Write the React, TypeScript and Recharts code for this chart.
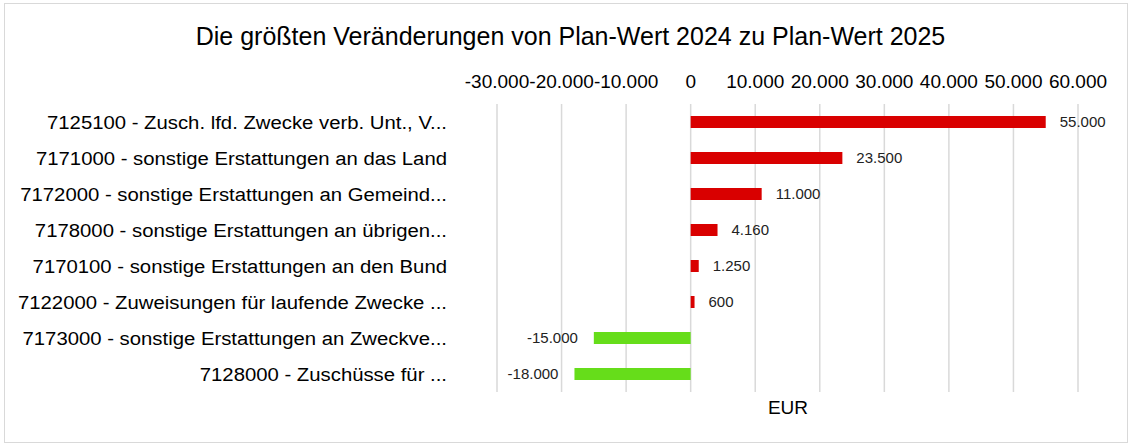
import { Bar, BarChart, CartesianGrid, Cell, LabelList, XAxis, YAxis } from 'recharts';

const categories = [
  '7125100 - Zusch. lfd. Zwecke verb. Unt., V...',
  '7171000 - sonstige Erstattungen an das Land',
  '7172000 - sonstige Erstattungen an Gemeind...',
  '7178000 - sonstige Erstattungen an übrigen...',
  '7170100 - sonstige Erstattungen an den Bund',
  '7122000 - Zuweisungen für laufende Zwecke ...',
  '7173000 - sonstige Erstattungen an Zweckve...',
  '7128000 - Zuschüsse für ...'
];

const changes = [55000, 23500, 11000, 4160, 1250, 600, -15000, -18000];

const xTicks = [-30000, -20000, -10000, 0, 10000, 20000, 30000, 40000, 50000, 60000];

const data = categories.map((name, i) => ({ name, value: changes[i] }));

const FONT = '"Liberation Sans", Arial, sans-serif';

// German thousands separator
function fmt(v: number) {
  const s = Math.abs(v)
    .toFixed(0)
    .replace(/\B(?=(\d{3})+(?!\d))/g, '.');
  return v < 0 ? '-' + s : s;
}

function CategoryTick(props: any) {
  const { x, y, payload } = props;
  return (
    <text
      transform={`translate(${x},${y}) scale(1.07,1)`}
      dy="0.35em"
      textAnchor="end"
      fontSize={19}
      fontFamily={FONT}
      fill="#000"
    >
      {payload.value}
    </text>
  );
}

function ValueLabel(props: any) {
  const { x, y, width, height, value } = props;
  const left = Math.min(x, x + width);
  const right = Math.max(x, x + width);
  const cy = y + height / 2;
  const neg = value < 0;
  return (
    <text
      x={neg ? left - 16 : right + 14}
      y={cy}
      dy="0.35em"
      textAnchor={neg ? 'end' : 'start'}
      fontSize={15}
      fontFamily={FONT}
      fill="#222"
    >
      {fmt(value)}
    </text>
  );
}

export default function App() {
  return (
    <div
      style={{
        position: 'absolute',
        left: 0,
        top: 0,
        width: 1130,
        height: 446,
        background: '#fff',
        fontFamily: FONT
      }}
    >
      <div
        style={{
          position: 'absolute',
          left: 4,
          top: 3,
          width: 1122,
          height: 438,
          border: '1px solid #d9d9d9'
        }}
      />
      <div
        style={{
          position: 'absolute',
          left: 0,
          top: 22,
          width: 1141,
          textAlign: 'center',
          fontSize: 25,
          color: '#000'
        }}
      >
        Die größten Veränderungen von Plan-Wert 2024 zu Plan-Wert 2025
      </div>
      <BarChart
        width={1130}
        height={446}
        data={data}
        layout="vertical"
        margin={{ top: 74, right: 52, bottom: 54, left: 0 }}
        style={{ position: 'absolute', left: 0, top: 0 }}
      >
        <CartesianGrid horizontal={false} stroke="#d9d9d9" strokeWidth={1.5} />
        <XAxis
          type="number"
          orientation="top"
          domain={[-30000, 60000]}
          ticks={xTicks}
          tickFormatter={fmt}
          height={30}
          axisLine={false}
          tickLine={false}
          tickSize={0}
          tickMargin={16}
          interval={0}
          tick={{ fontSize: 19, fill: '#000', fontFamily: FONT }}
        />
        <YAxis
          type="category"
          dataKey="name"
          width={497}
          axisLine={false}
          tickLine={false}
          tickSize={0}
          tickMargin={50}
          interval={0}
          tick={CategoryTick}
        />
        <Bar dataKey="value" barSize={12} isAnimationActive={false}>
          {data.map((d, i) => (
            <Cell key={i} fill={d.value < 0 ? '#66dd1a' : '#d90000'} />
          ))}
          <LabelList dataKey="value" content={ValueLabel} />
        </Bar>
      </BarChart>
      <div
        style={{
          position: 'absolute',
          left: 688,
          top: 397,
          width: 200,
          textAlign: 'center',
          fontSize: 19,
          color: '#000'
        }}
      >
        EUR
      </div>
    </div>
  );
}
